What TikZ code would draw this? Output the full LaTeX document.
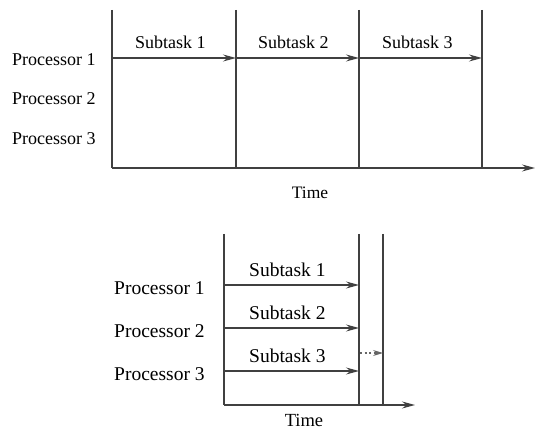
\documentclass[tikz,border=0pt]{standalone}
\usepackage{fontspec}
\setmainfont{Liberation Serif}
\usetikzlibrary{arrows.meta}
\begin{document}
\begin{tikzpicture}[x=1pt,y=-1pt,
  ln/.style={draw=black!75,line width=1.2pt},
  arr/.style={ln,-{Stealth[length=13pt,width=7pt,inset=4.5pt]}},
  darr/.style={draw=black!60,line width=1.1pt,dash pattern=on 2pt off 2.5pt,-{Stealth[length=10pt,width=6pt,inset=3.5pt]}},
  lblA/.style={inner sep=0pt,anchor=base west,font=\fontsize{18}{20}\selectfont},
  lblB/.style={inner sep=0pt,anchor=base west,font=\fontsize{19.5}{22}\selectfont},
  tmA/.style={inner sep=0pt,anchor=base,font=\fontsize{17.5}{20}\selectfont},
  tmB/.style={inner sep=0pt,anchor=base,font=\fontsize{18.5}{21}\selectfont}]
\useasboundingbox (0,0) rectangle (536,430);
% ---------- top diagram ----------
\coordinate (a0t) at (112,10);  \coordinate (a0b) at (112,168);
\coordinate (a1t) at (236,10);  \coordinate (a1b) at (236,168);
\coordinate (a2t) at (359,10);  \coordinate (a2b) at (359,168);
\coordinate (a3t) at (482,10);  \coordinate (a3b) at (482,168);
\coordinate (aend) at (535,168);
\coordinate (p1a) at (112,58);
\coordinate (p1b) at (236,58);
\coordinate (p1c) at (359,58);
\coordinate (p1d) at (482,58);
\draw[ln] (a0t) -- (a0b);
\draw[ln] (a1t) -- (a1b);
\draw[ln] (a2t) -- (a2b);
\draw[ln] (a3t) -- (a3b);
\draw[arr] (a0b) -- (aend);
\draw[arr] (p1a) -- (p1b);
\draw[arr] (p1b) -- (p1c);
\draw[arr] (p1c) -- (p1d);
\node[lblA] (pa1) at (12,66) {Processor 1};
\node[lblA] (pa2) at (12,105) {Processor 2};
\node[lblA] (pa3) at (12,145) {Processor 3};
\node[lblA] (sa1) at (135,49) {Subtask 1};
\node[lblA] (sa2) at (258,49) {Subtask 2};
\node[lblA] (sa3) at (382,49) {Subtask 3};
\node[tmA] (ta) at (310,199) {Time};
% ---------- bottom diagram ----------
\coordinate (b0t) at (224,234); \coordinate (b0b) at (224,405);
\coordinate (b1t) at (359,234); \coordinate (b1b) at (359,405);
\coordinate (b2t) at (383,234); \coordinate (b2b) at (383,405);
\coordinate (bend) at (415,405);
\coordinate (q1a) at (224,285); \coordinate (q1b) at (359,285);
\coordinate (q2a) at (224,328); \coordinate (q2b) at (359,328);
\coordinate (q3a) at (224,371); \coordinate (q3b) at (359,371);
\coordinate (qda) at (360,353); \coordinate (qdb) at (383,353);
\draw[ln] (b0t) -- (b0b);
\draw[ln] (b1t) -- (b1b);
\draw[ln] (b2t) -- (b2b);
\draw[arr] (b0b) -- (bend);
\draw[arr] (q1a) -- (q1b);
\draw[arr] (q2a) -- (q2b);
\draw[arr] (q3a) -- (q3b);
\draw[darr] (qda) -- (qdb);
\node[lblB] (pb1) at (114,295) {Processor 1};
\node[lblB] (pb2) at (114,338) {Processor 2};
\node[lblB] (pb3) at (114,381) {Processor 3};
\node[lblB] (sb1) at (249,277) {Subtask 1};
\node[lblB] (sb2) at (249,320) {Subtask 2};
\node[lblB] (sb3) at (249,363) {Subtask 3};
\node[tmB] (tb) at (304,427) {Time};
\end{tikzpicture}
\end{document}
